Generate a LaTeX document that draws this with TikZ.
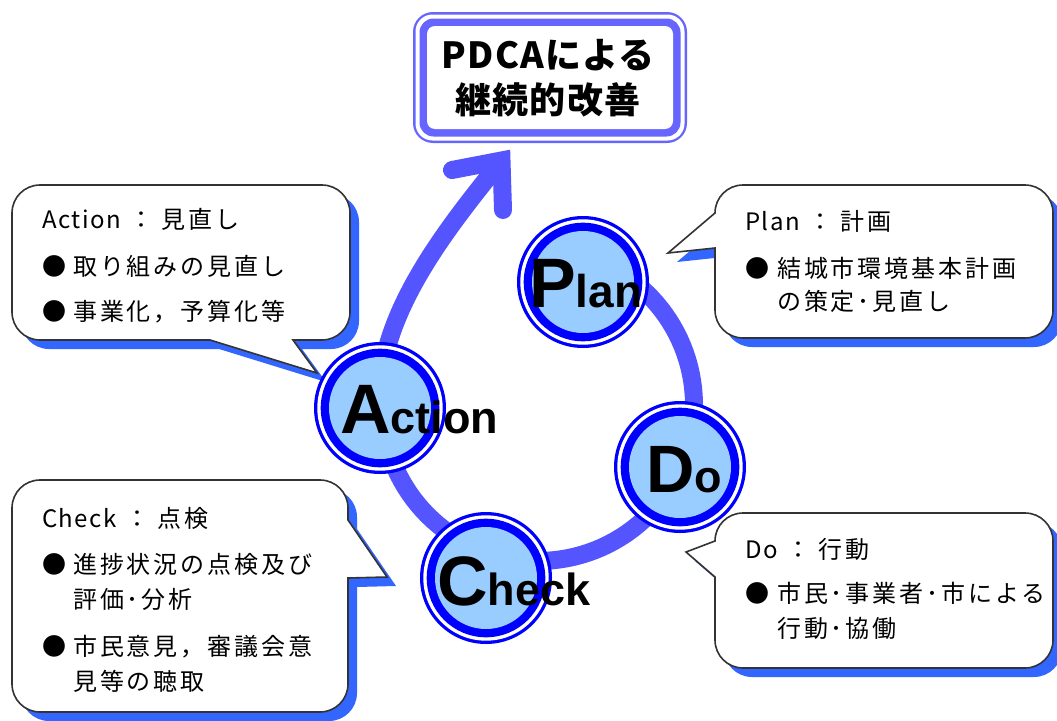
\documentclass[tikz,border=0pt]{standalone}
\usepackage{fontspec}
\setmainfont{Liberation Sans}
\newfontfamily\jp[LetterSpace=12]{Noto Sans CJK JP}
\newfontfamily\jpl[LetterSpace=6]{Noto Sans CJK JP}
\newfontfamily\jpt[LetterSpace=3]{Noto Sans CJK JP}
\definecolor{ringblue}{HTML}{0000FF}
\definecolor{fillblue}{HTML}{99CCFF}
\definecolor{loopblue}{HTML}{5555FF}
\definecolor{framebl}{HTML}{6666FF}
\definecolor{shadowbl}{HTML}{3366FF}
\definecolor{bubbleline}{HTML}{333333}
\newcommand\bubblepath[8]{({#1+28},#2) #5 -- ({#3-28},#2) .. controls ({#3-12.5},#2) and (#3,{#2+12.5}) .. (#3,{#2+28}) #6 -- (#3,{#4-28}) .. controls (#3,{#4-12.5}) and ({#3-12.5},#4) .. ({#3-28},#4) #7 -- ({#1+28},#4) .. controls ({#1+12.5},#4) and (#1,{#4-12.5}) .. (#1,{#4-28}) #8 -- (#1,{#2+28}) .. controls (#1,{#2+12.5}) and ({#1+12.5},#2) .. ({#1+28},#2) -- cycle}
\begin{document}
\begin{tikzpicture}[x=1pt,y=-1pt,
  pdca/.style={circle, minimum size=132pt, inner sep=0pt, fill=ringblue,
    path picture={\fill[white] (path picture bounding box.center) circle[radius=62.7pt];
      \fill[ringblue] (path picture bounding box.center) circle[radius=59.3pt];
      \fill[fillblue] (path picture bounding box.center) circle[radius=51pt];}},
  bigtxt/.style={anchor=base west, inner sep=0pt, font=\bfseries},
  txt/.style={anchor=base west, inner sep=0pt, font=\jp\fontsize{24}{28}\selectfont},
  bubshadow/.style={fill=shadowbl, shift={(9,9)}},
  bubble/.style={draw=bubbleline, line width=1.6pt, fill=white, line join=miter},
  loopline/.style={draw=loopblue, line width=18pt},
  titletxt/.style={anchor=base, inner sep=0pt, font=\jpt\bfseries\fontsize{36}{40}\selectfont}]
\useasboundingbox (0,0) rectangle (1057,720);
\fill[white] (0,0) rectangle (1057,720);

% title frame
\fill[framebl, rounded corners=20pt] (413,12) rectangle (687,143);
\fill[white, rounded corners=17pt] (415.5,14.5) rectangle (684.5,140.5);
\fill[framebl, rounded corners=14pt] (419.5,18.5) rectangle (680.5,136.5);
\fill[white, rounded corners=8pt] (427,26) rectangle (673,129);
\node[titletxt] (title1) at (548,68) {PDCAによる};
\node[titletxt] (title2) at (548,113) {継続的改善};

% callout shadows
\fill[bubshadow] \bubblepath{12}{185}{350}{340}{}{}{-- (293,340) -- (317,373) -- (210,340)}{};
\fill[bubshadow] \bubblepath{715}{185}{1053}{338}{}{}{}{-- (715,248) -- (668,253)};
\fill[bubshadow] \bubblepath{715}{513}{1053}{668}{}{}{}{-- (715,577) -- (686,552) -- (715,541)};
\fill[bubshadow] \bubblepath{12}{480}{348}{712}{}{-- (348,520) -- (387,577) -- (348,578)}{}{};
% callouts
\path[bubble] \bubblepath{12}{185}{350}{340}{}{}{-- (293,340) -- (317,373) -- (210,340)}{};
\path[bubble] \bubblepath{715}{185}{1053}{338}{}{}{}{-- (715,248) -- (668,253)};
\path[bubble] \bubblepath{715}{513}{1053}{668}{}{}{}{-- (715,577) -- (686,552) -- (715,541)};
\path[bubble] \bubblepath{12}{480}{348}{712}{}{-- (348,520) -- (387,577) -- (348,578)}{}{};

% cycle loop and arrow
\draw[loopline] plot[domain=-62:175, samples=90] ({538+156*cos(\x)}, {405+156*sin(\x)})
  .. controls (366,325) and (451,224) .. (501.5,160.5);
\coordinate (armA) at (452,170);
\coordinate (tipv) at (501.5,160.5);
\coordinate (armB) at (503,210);
\draw[loopline, line cap=round, line join=miter] (armA) -- (tipv) -- (armB);

% PDCA circles
\node[pdca] (plan) at (583,282) {};
\node[pdca] (do) at (680,467) {};
\node[pdca] (check) at (486,578) {};
\node[pdca] (action) at (380,408) {};

\node[bigtxt] (planlbl) at (529,307) {\fontsize{70}{70}\selectfont P\fontsize{46}{46}\selectfont lan};
\node[bigtxt] (dolbl) at (646,492) {\fontsize{67}{67}\selectfont D\fontsize{45}{45}\selectfont o};
\node[bigtxt] (checklbl) at (437,605) {\fontsize{70}{70}\selectfont C\fontsize{45}{45}\selectfont heck};
\node[bigtxt] (actionlbl) at (340,433) {\fontsize{70}{70}\selectfont A\fontsize{45}{45}\selectfont ction};

% Action callout text
\node[txt] (a0) at (42,228) {{\jpl Action}\hspace{9pt}：\hspace{8pt}見直し};
\node[txt] (a1b) at (42,275) {●};
\node[txt] (a1) at (73,275) {取り組みの見直し};
\node[txt] (a2b) at (42,320) {●};
\node[txt] (a2) at (73,320) {事業化，予算化等};

% Plan callout text
\node[txt] (p0) at (745,230) {{\jpl Plan}\hspace{9pt}：\hspace{8pt}計画};
\node[txt] (p1b) at (745,277) {●};
\node[txt] (p1) at (777,277) {結城市環境基本計画};
\node[txt] (p2) at (777,310) {の策定･見直し};

% Do callout text
\node[txt] (d0) at (745,558) {{\jpl Do}\hspace{9pt}：\hspace{8pt}行動};
\node[txt] (d1b) at (745,602) {●};
\node[txt] (d1) at (777,602) {市民･事業者･市による};
\node[txt] (d2) at (777,637) {行動･協働};

% Check callout text
\node[txt] (c0) at (42,527) {{\jpl Check}\hspace{9pt}：\hspace{8pt}点検};
\node[txt] (c1b) at (42,573) {●};
\node[txt] (c1) at (73,573) {進捗状況の点検及び};
\node[txt] (c2) at (73,608) {評価･分析};
\node[txt] (c3b) at (42,655) {●};
\node[txt] (c3) at (73,655) {市民意見，審議会意};
\node[txt] (c4) at (73,690) {見等の聴取};
\end{tikzpicture}
\end{document}
